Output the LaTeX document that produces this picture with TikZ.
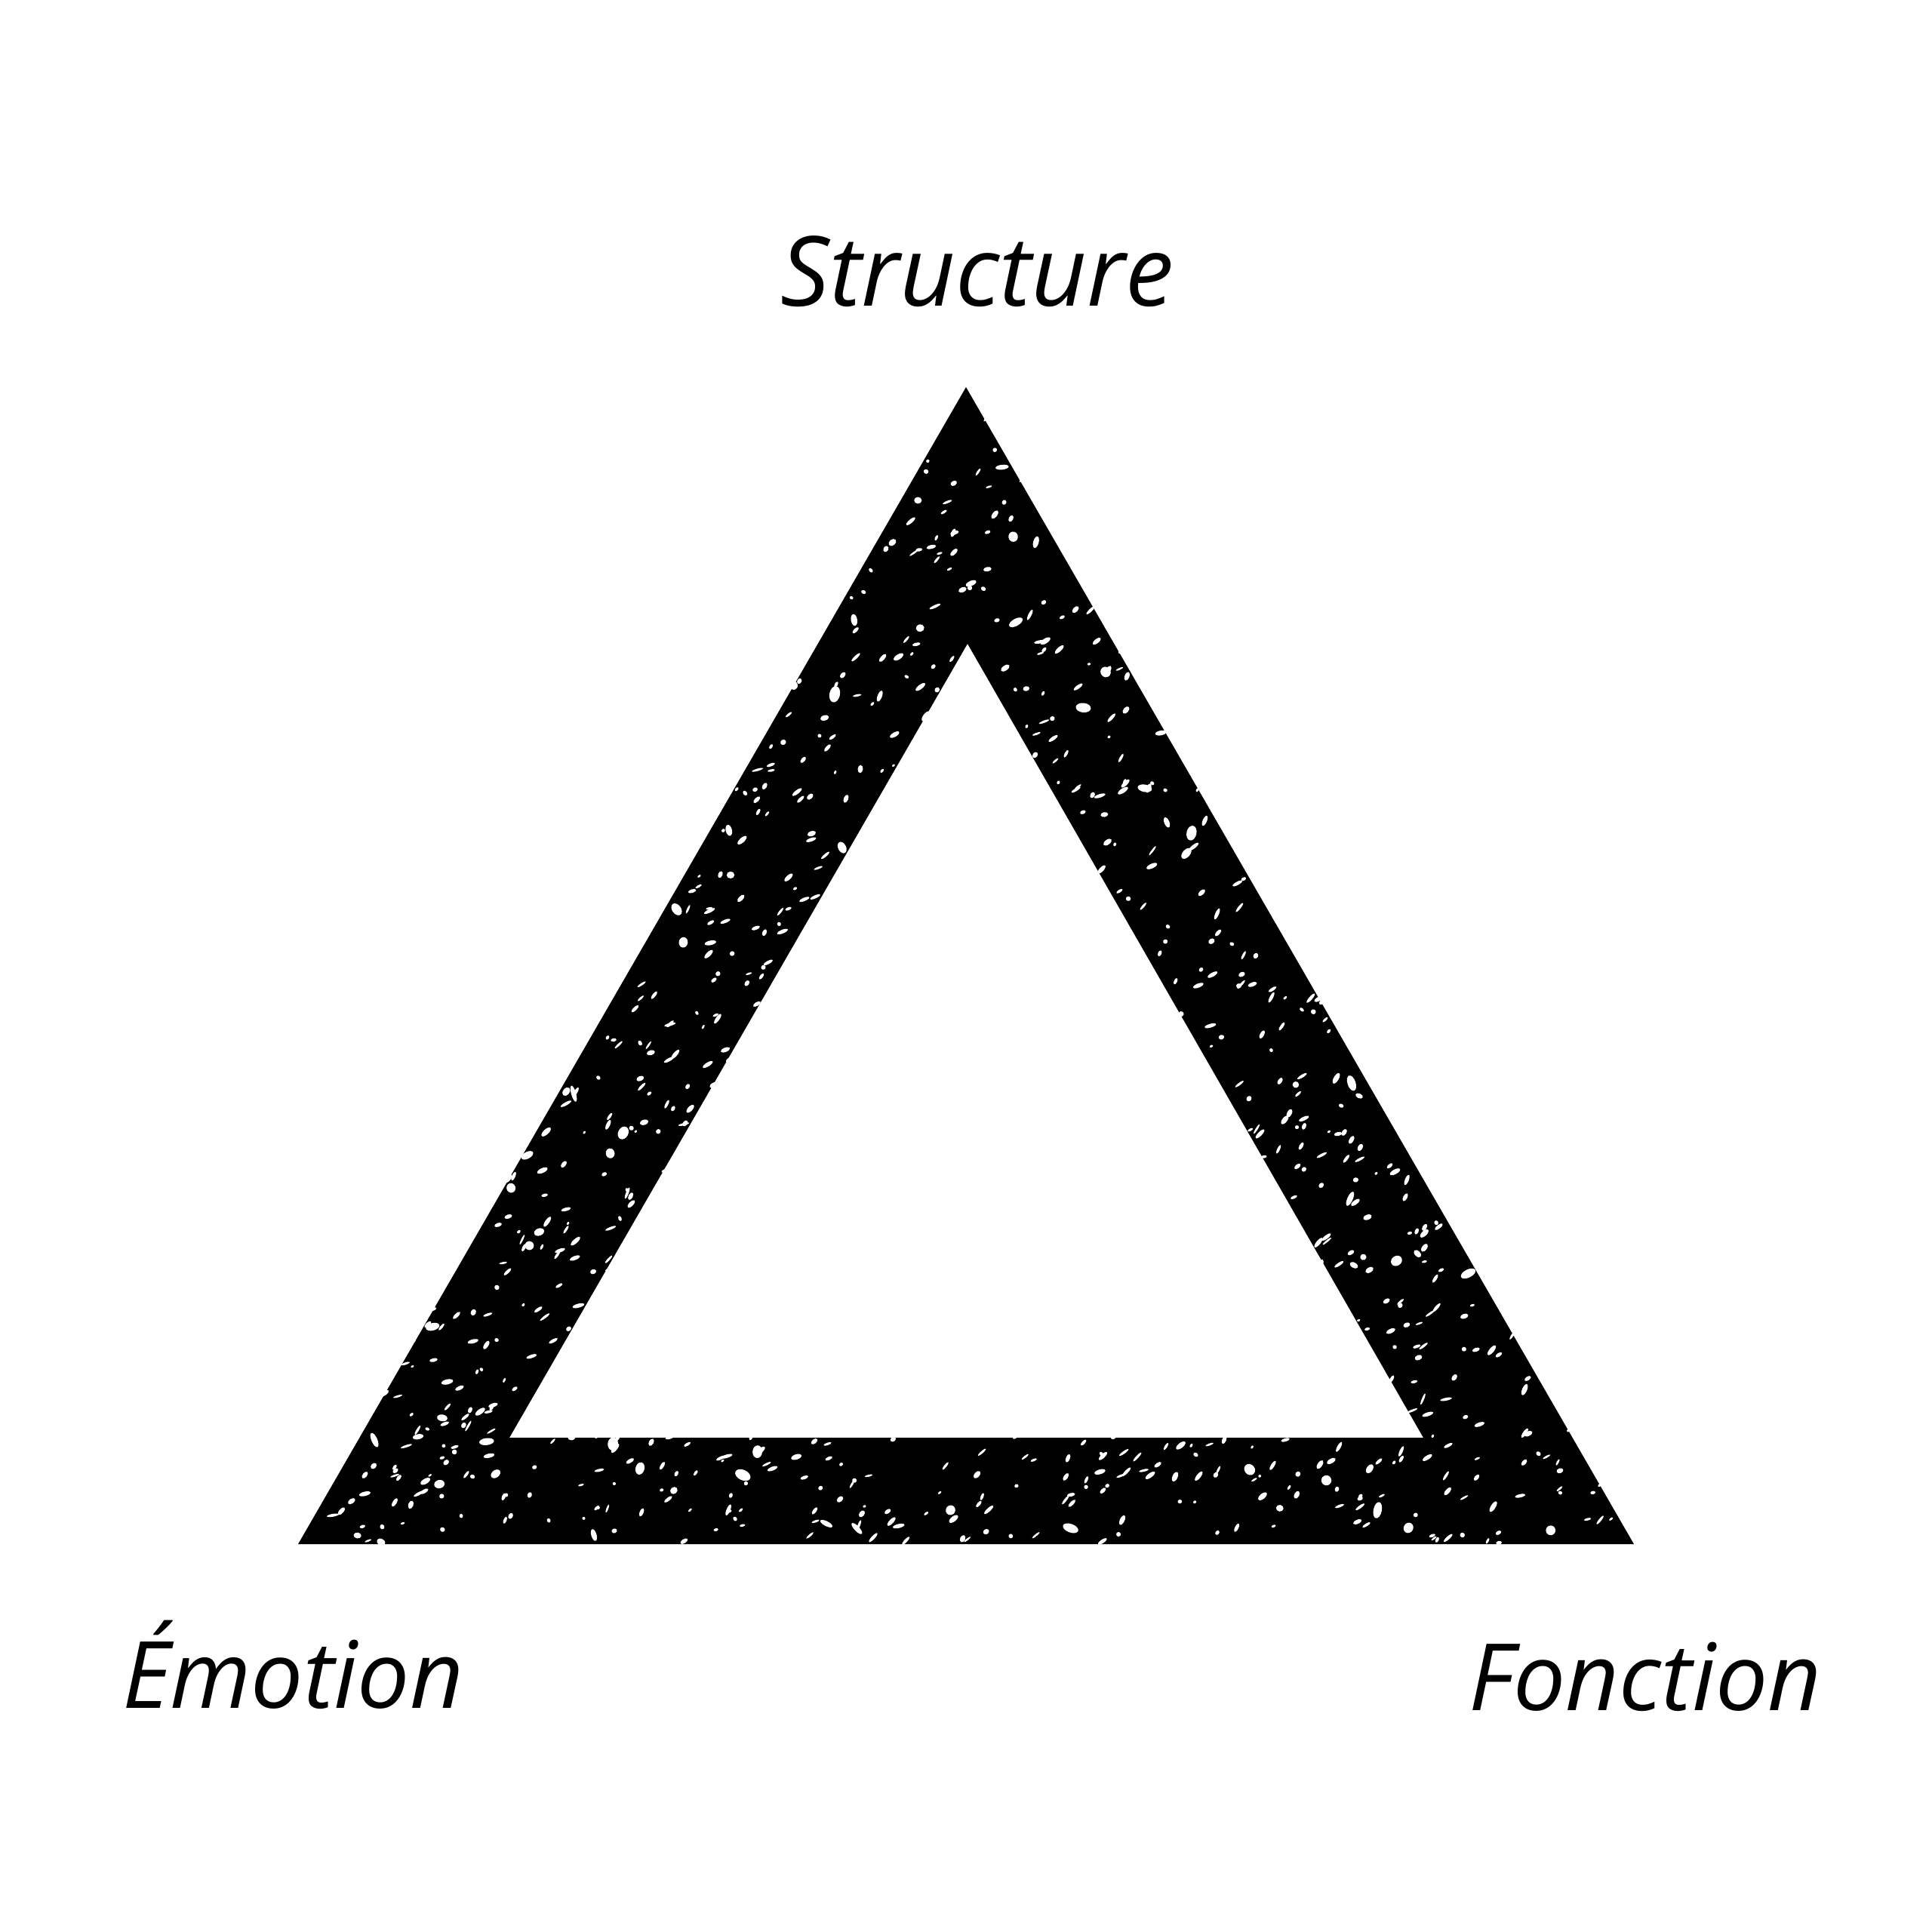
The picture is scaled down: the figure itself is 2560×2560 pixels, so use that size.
\documentclass[tikz,border=0pt]{standalone}
\usepackage{fontspec}
\setmainfont{Open Sans}
\tikzset{
  lbl/.style={font=\fontsize{35}{40}\selectfont\itshape, inner sep=0pt, anchor=base, text=black},
  lblbig/.style={lbl, font=\fontsize{36.5}{42}\selectfont\itshape},
  ring/.style={fill=black, even odd rule},
  speck/.style={fill=white},
}
\begin{document}
\begin{tikzpicture}[x=0.01cm, y=-0.01cm]
\useasboundingbox[fill=white] (0,0) rectangle (2560,2560);
% triangle corners
\coordinate (oT) at (1280,513);
\coordinate (oL) at (395,2046);
\coordinate (oR) at (2165,2046);
\coordinate (iT) at (1282,853);
\coordinate (iL) at (675,1905);
\coordinate (iR) at (1886,1905);
\fill[ring] (oT) -- (oL) -- (oR) -- cycle (iT) -- (iL) -- (iR) -- cycle;
% grunge specks: small dashes
\pgfmathsetseed{4711}
\foreach \k in {1,...,2200}{
  \pgfmathsetmacro\px{395+1770*rnd}
  \pgfmathsetmacro\py{513+1533*rnd}
  \pgfmathsetmacro\rx{2+6*rnd}
  \pgfmathsetmacro\ry{1.3+2.2*rnd}
  \pgfmathsetmacro\an{10+60*rnd}
  \fill[speck, rotate around={\an:(\px,\py)}] (\px,\py) ellipse [x radius=\rx, y radius=\ry];
}
% grunge specks: larger blobs
\foreach \k in {1,...,260}{
  \pgfmathsetmacro\px{395+1770*rnd}
  \pgfmathsetmacro\py{513+1533*rnd}
  \pgfmathsetmacro\rx{4+7*rnd}
  \pgfmathsetmacro\ry{3+4*rnd}
  \pgfmathsetmacro\an{180*rnd}
  \fill[speck, rotate around={\an:(\px,\py)}] (\px,\py) ellipse [x radius=\rx, y radius=\ry];
}
% labels
\node[lblbig] (structure) at (1295,405) {Structure};
\node[lbl] (emotion) at (388,2263) {Émotion};
\node[lbl] (fonction) at (2180,2266) {Fonction};
\end{tikzpicture}
\end{document}
